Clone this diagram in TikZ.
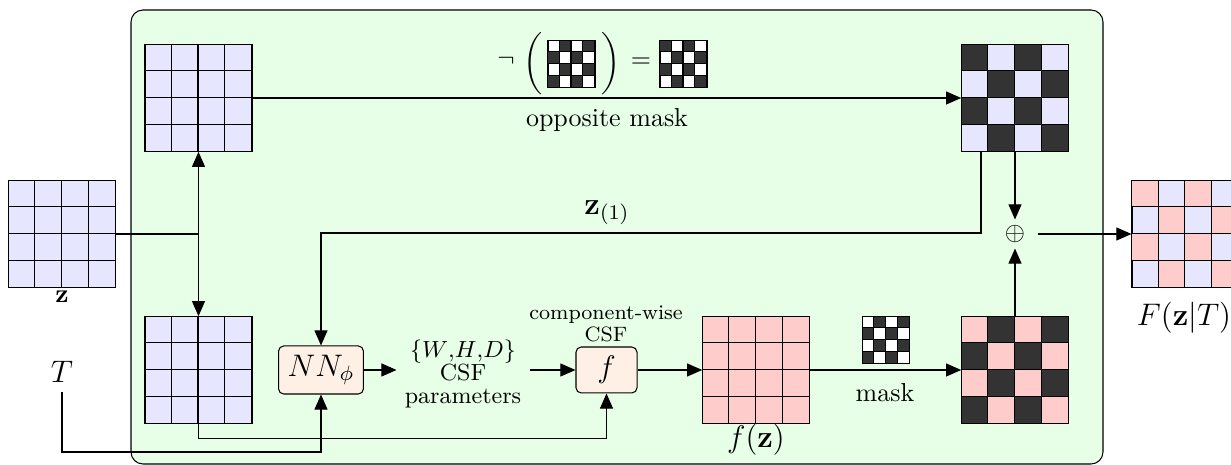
\documentclass[tikz,border=0pt]{standalone}
\usetikzlibrary{arrows.meta,calc}
\definecolor{lav}{RGB}{230,230,255}
\definecolor{pinkc}{RGB}{255,204,204}
\definecolor{bgg}{RGB}{230,255,230}
\definecolor{darkc}{RGB}{51,51,51}
\definecolor{nodef}{RGB}{255,240,230}
% plain grid: name, x, y, cell, base
\newcommand{\pgrid}[5]{%
  \node[draw, fill=#5, inner sep=0pt, minimum size=4*#4*0.385pt] (#1) at (#2,#3) {};
  \foreach \k in {1,2,3} {\draw ($(#1.north west)+(\k*#4,0)$) -- ++(0,4*#4); \draw ($(#1.north west)+(0,\k*#4)$) -- ++(4*#4,0);}
  \draw (#1.north west) rectangle (#1.south east);
}
% pattern grid: name, x, y, cell, base, overlay colour, cells col/row
\newcommand{\mgrid}[7]{%
  \node[draw, fill=#5, inner sep=0pt, minimum size=4*#4*0.385pt] (#1) at (#2,#3) {};
  \foreach \c/\r in #7 {\fill[#6] ($(#1.north west)+(\c*#4,\r*#4)$) rectangle ++(#4,#4);}
  \foreach \k in {1,2,3} {\draw ($(#1.north west)+(\k*#4,0)$) -- ++(0,4*#4); \draw ($(#1.north west)+(0,\k*#4)$) -- ++(4*#4,0);}
  \draw (#1.north west) rectangle (#1.south east);
}
\def\oddcells{1/0,3/0,0/1,2/1,1/2,3/2,0/3,2/3}
\def\evencells{0/0,2/0,1/1,3/1,0/2,2/2,1/3,3/3}
\begin{document}
\begin{tikzpicture}[x=0.385pt,y=-0.385pt,
  arr/.style={-{Triangle[length=5.8pt,width=5pt]}},
  procbox/.style={draw, fill=nodef, rounded corners=2pt, inner sep=2pt}]
\clip (0,0) rectangle (1231,465);
\fill[white] (0,0) rectangle (1231,465);
\draw[fill=bgg, rounded corners=4.6pt] (131,10) rectangle (1103,464);

% grids
\pgrid{zin}{62}{234}{26.65}{lav}
\pgrid{tl}{198.5}{98}{26.65}{lav}
\pgrid{bl}{198.5}{370}{26.65}{lav}
\pgrid{fz}{756}{370}{26.65}{pinkc}
\mgrid{tr}{1015}{98}{26.65}{lav}{darkc}{\evencells}
\mgrid{br}{1015}{370}{26.65}{pinkc}{darkc}{\oddcells}
\mgrid{out}{1185.3}{234}{26.65}{lav}{pinkc}{\evencells}
\mgrid{sm}{886}{340}{11.6}{white}{darkc}{\oddcells}
\mgrid{ma}{571.5}{64}{11.7}{white}{darkc}{\oddcells}
\mgrid{mb}{683.5}{64}{11.7}{white}{darkc}{\evencells}

% formula
\node (neg) at (506,61) {$\neg$};
\node (lp) at (533,64) {$\bigg($};
\node (rp) at (611,64) {$\bigg)$};
\node (eq) at (641,63) {$=$};
\node (opp) at (607,120) {opposite mask};

% labels
\node (zl) at (62,297) {$\mathbf{z}$};
\node (Tl) at (62,372) {\large $T$};
\node (Fl) at (1184,318) {\large $F(\mathbf{z}|T)$};
\node (fzl) at (756,440) {\large $f(\mathbf{z})$};
\node (maskl) at (885,393) {mask};
\node (z1l) at (607,213) {\large $\mathbf{z}_{(1)}$};

% process nodes
\node[procbox, minimum width=32.7pt, minimum height=18.5pt] (nn) at (321,370) {\large $NN_\phi$};
\node[procbox, minimum width=23.5pt, minimum height=17.7pt] (fn) at (606.5,370) {\large $f$};
\node[align=center, font=\small, inner sep=3pt] (par) at (463,374) {$\{W{,}H{,}D\}$\\[-2pt]CSF\\[-2pt]parameters};
\node[align=center, font=\footnotesize, inner sep=0pt] (cw) at (606,324) {component-wise\\[-1pt]CSF};
\node[inner sep=0pt, minimum width=17pt, minimum height=10.8pt] (plus) at (1015,234) {$\oplus$};

% connectors
\coordinate (j) at (198.5,234);
\draw (zin.east) -- (j);
\draw[arr] (j) -- (tl.south);
\draw[arr] (j) -- (bl.north);
\draw[arr] (tl.east) -- (tr.west);
\draw[arr] (tr.south) -- (plus.north);
\draw[arr] (br.north) -- (plus.south);
\draw[arr] (plus.east) -- (out.west);
\draw[arr] ($(tr.south)+(-34,0)$) |- (nn.north |- 0,233) -- (nn.north);
\draw[arr] (nn.east) -- (nn.east -| par.west);
\draw[arr] (fn.west -| par.east) -- (fn.west);
\draw[arr] (fn.east) -- (fz.west);
\draw[arr] (fz.east) -- (br.west);
\draw[arr] (bl.south) -- ++(0,15) -| (fn.south);
\coordinate (tb) at (62,452);
\draw[arr] (Tl.south) -- (tb) -| (nn.south);
\end{tikzpicture}
\end{document}
